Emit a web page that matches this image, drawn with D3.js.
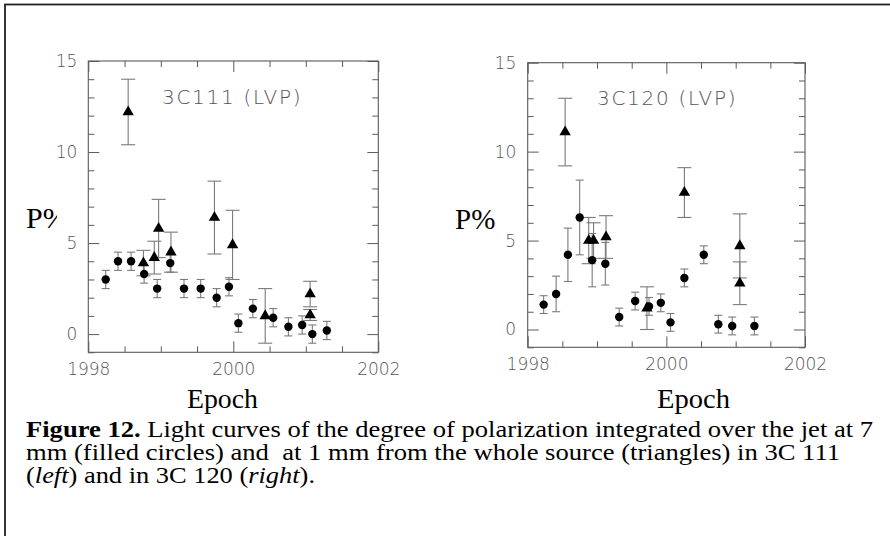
<!DOCTYPE html>
<html>
<head>
<meta charset="utf-8">
<script src="https://cdn.jsdelivr.net/npm/d3@7"></script>
<style>
  body { margin: 0; background: #fff; }
  svg { display: block; }
</style>
</head>
<body>
<div id="chart"></div>
<script>
// tick values
const xMajor = [1998, 2000, 2002];
const xMinor = [1998.5, 1999, 1999.5, 2000.5, 2001, 2001.5];
const yMajor = [0, 5, 10, 15];
const yMinor = [-1, 1, 2, 3, 4, 6, 7, 8, 9, 11, 12, 13, 14];

// 3C111 : 7 mm jet (circles)
const epoch111c = [1998.24, 1998.41, 1998.59, 1998.77, 1998.95, 1999.13, 1999.32, 1999.55, 1999.77, 1999.94, 2000.07, 2000.27, 2000.55, 2000.76, 2000.95, 2001.09, 2001.29];
const pol111c   = [3.0, 4.0, 4.0, 3.3, 2.5, 3.9, 2.5, 2.5, 2.0, 2.6, 0.6, 1.4, 0.9, 0.4, 0.5, 0.0, 0.2];
const err111c   = [0.5, 0.5, 0.5, 0.5, 0.5, 0.5, 0.5, 0.5, 0.5, 0.5, 0.5, 0.5, 0.5, 0.5, 0.5, 0.5, 0.5];
// 3C111 : 1 mm whole source (triangles)
const epoch111t = [1998.55, 1998.76, 1998.91, 1998.97, 1999.14, 1999.74, 1999.99, 2000.44, 2001.06, 2001.06];
const pol111t   = [12.2, 3.9, 4.2, 5.8, 4.5, 6.4, 4.9, 1.0, 2.2, 1.05];
const err111t   = [1.8, 0.7, 0.9, 1.6, 1.1, 2.0, 1.9, 1.5, 0.7, 0.3];

// 3C120 : 7 mm jet (circles)
const epoch120c = [1998.23, 1998.41, 1998.58, 1998.75, 1998.93, 1999.12, 1999.32, 1999.55, 1999.75, 1999.92, 2000.06, 2000.26, 2000.54, 2000.75, 2000.95, 2001.27];
const pol120c   = [1.4, 2.0, 4.2, 6.3, 3.9, 3.7, 0.7, 1.6, 1.3, 1.5, 0.4, 2.9, 4.2, 0.3, 0.2, 0.2];
const err120c   = [0.5, 1.0, 1.5, 2.1, 1.5, 1.2, 0.5, 0.5, 0.5, 0.5, 0.5, 0.5, 0.5, 0.5, 0.5, 0.5];
// 3C120 : 1 mm whole source (triangles)
const epoch120t = [1998.54, 1998.88, 1998.95, 1999.13, 1999.72, 2000.26, 2001.06, 2001.06];
const pol120t   = [11.1, 5.0, 5.0, 5.2, 1.2, 7.7, 4.7, 2.6];
const err120t   = [1.9, 1.3, 1.0, 1.2, 1.2, 1.4, 1.8, 1.2];

const width = 890;
const height = 536;
const axisColor = "#5a5a5a";
const barColor = "#7a7a7a";

const svg = d3.select("#chart")
  .append("svg")
  .attr("width", width)
  .attr("height", height);

// outer figure border (right and bottom edges fall outside the picture)
svg.append("rect")
  .attr("x", 5).attr("y", 4.5)
  .attr("width", width + 10).attr("height", height + 10)
  .attr("fill", "none")
  .attr("stroke", "#222")
  .attr("stroke-width", 1.8);

const zip = (t, p, e) => t.map((d, i) => ({ t: d, p: p[i], e: e[i] }));

const panels = [
  { left: 88.3, right: 378.3, top: 61, bottom: 352.3, yPad: 11, xPad: 11,
    title: "3C111 (LVP)", titleX: 162, titleY: 104,
    pX: 26, pY: 228, pSize: 30, pClip: 57, epochX: 222.5, epochW: 71,
    circles: zip(epoch111c, pol111c, err111c), triangles: zip(epoch111t, pol111t, err111t) },
  { left: 527.7, right: 805, top: 62.7, bottom: 347.3, yPad: 11.5, xPad: 11,
    title: "3C120 (LVP)", titleX: 597, titleY: 105,
    pX: 455, pY: 229, pSize: 29, pClip: null, epochX: 693.5, epochW: 73,
    circles: zip(epoch120c, pol120c, err120c), triangles: zip(epoch120t, pol120t, err120t) }
];

panels.forEach(function (pn, k) {
  const x = d3.scaleLinear().domain([1998, 2002]).range([pn.left, pn.right]);
  const y = d3.scaleLinear().domain([-1, 15]).range([pn.bottom, pn.top]);
  const g = svg.append("g");

  // ticks, pointing inside the frame
  const addAxis = function (axis, tr, labels) {
    const a = g.append("g").attr("transform", tr).call(axis);
    a.select(".domain").remove();
    a.selectAll("line").attr("stroke", axisColor);
    a.selectAll("text")
      .attr("fill", labels ? "#555" : "none")
      .style("font-family", "'DejaVu Sans', sans-serif")
      .style("font-weight", 200)
      .style("font-size", "17px");
    return a;
  };
  addAxis(d3.axisBottom(x).tickValues(xMinor).tickSize(-6).tickFormat(""), `translate(0,${pn.bottom})`, false);
  addAxis(d3.axisBottom(x).tickValues(xMajor).tickSize(-11).tickPadding(pn.xPad).tickFormat(d3.format("d")), `translate(0,${pn.bottom})`, true);
  addAxis(d3.axisTop(x).tickValues(xMinor).tickSize(-6).tickFormat(""), `translate(0,${pn.top})`, false);
  addAxis(d3.axisTop(x).tickValues(xMajor).tickSize(-11).tickFormat(""), `translate(0,${pn.top})`, false);
  addAxis(d3.axisLeft(y).tickValues(yMinor).tickSize(-6).tickFormat(""), `translate(${pn.left},0)`, false);
  addAxis(d3.axisLeft(y).tickValues(yMajor).tickSize(-11).tickPadding(pn.yPad).tickFormat(d3.format("d")), `translate(${pn.left},0)`, true);
  addAxis(d3.axisRight(y).tickValues(yMinor).tickSize(-6).tickFormat(""), `translate(${pn.right},0)`, false);
  addAxis(d3.axisRight(y).tickValues(yMajor).tickSize(-11).tickFormat(""), `translate(${pn.right},0)`, false);

  // frame
  g.append("rect")
    .attr("x", pn.left).attr("y", pn.top)
    .attr("width", pn.right - pn.left).attr("height", pn.bottom - pn.top)
    .attr("fill", "none")
    .attr("stroke", axisColor)
    .attr("stroke-width", 1.1);

  // title in the panel
  g.append("text")
    .attr("x", pn.titleX).attr("y", pn.titleY)
    .text(pn.title)
    .attr("fill", "#555")
    .style("font-family", "'DejaVu Sans', sans-serif")
    .style("font-weight", 200)
    .style("font-size", "20px")
    .style("letter-spacing", "1.7px");

  // error bars
  const drawBars = function (data, cap) {
    const eb = g.append("g").attr("stroke", barColor).attr("stroke-width", 1.1);
    eb.selectAll(".v").data(data).enter().append("line")
      .attr("x1", d => x(d.t)).attr("x2", d => x(d.t))
      .attr("y1", d => y(d.p - d.e)).attr("y2", d => y(d.p + d.e));
    eb.selectAll(".hi").data(data).enter().append("line")
      .attr("x1", d => x(d.t) - cap).attr("x2", d => x(d.t) + cap)
      .attr("y1", d => y(d.p + d.e)).attr("y2", d => y(d.p + d.e));
    eb.selectAll(".lo").data(data).enter().append("line")
      .attr("x1", d => x(d.t) - cap).attr("x2", d => x(d.t) + cap)
      .attr("y1", d => y(d.p - d.e)).attr("y2", d => y(d.p - d.e));
  };
  drawBars(pn.circles, 4);
  drawBars(pn.triangles, 7);

  g.selectAll(".circ").data(pn.circles).enter().append("circle")
    .attr("cx", d => x(d.t)).attr("cy", d => y(d.p))
    .attr("r", 4.2)
    .attr("fill", "#000");

  g.selectAll(".tri").data(pn.triangles).enter().append("path")
    .attr("d", d3.symbol().type(d3.symbolTriangle).size(56))
    .attr("transform", d => `translate(${x(d.t)},${y(d.p)})`)
    .attr("fill", "#000");

  // y label "P%"
  const pl = g.append("text")
    .attr("x", pn.pX).attr("y", pn.pY)
    .text("P%")
    .attr("fill", "#000")
    .style("font-family", "'Liberation Serif', 'Times New Roman', serif")
    .style("font-size", pn.pSize + "px");
  if (pn.pClip) {
    svg.append("clipPath").attr("id", "pclip" + k)
      .append("rect").attr("x", 0).attr("y", 0).attr("width", pn.pClip).attr("height", height);
    pl.attr("clip-path", `url(#pclip${k})`);
  }

  // x label
  g.append("text")
    .attr("x", pn.epochX).attr("y", 408)
    .attr("text-anchor", "middle")
    .attr("textLength", pn.epochW)
    .attr("lengthAdjust", "spacingAndGlyphs")
    .text("Epoch")
    .attr("fill", "#000")
    .style("font-family", "'Liberation Serif', 'Times New Roman', serif")
    .style("font-size", "27px");
});

// caption (widths follow the reference, which is a little stretched sideways)
const captionLines = [
  [{ s: "Figure 12.", b: true }, { s: " Light curves of the degree of polarization integrated over the jet at 7" }],
  [{ s: "mm (filled circles) and  at 1 mm from the whole source (triangles) in 3C 111" }],
  [{ s: "(" }, { s: "left", i: true }, { s: ") and in 3C 120 (" }, { s: "right", i: true }, { s: ")." }]
];
const captionWidths = [847, 814, 289];
const cap = svg.append("g")
  .style("font-family", "'Liberation Serif', 'Times New Roman', serif")
  .style("font-size", "24px")
  .attr("fill", "#000");
captionLines.forEach(function (line, i) {
  const t = cap.append("text")
    .attr("x", 26).attr("y", 437 + i * 23)
    .attr("textLength", captionWidths[i])
    .attr("lengthAdjust", "spacingAndGlyphs")
    .style("white-space", "pre");
  line.forEach(function (part) {
    t.append("tspan")
      .text(part.s)
      .style("font-weight", part.b ? "bold" : null)
      .style("font-style", part.i ? "italic" : null);
  });
});
</script>
</body>
</html>
